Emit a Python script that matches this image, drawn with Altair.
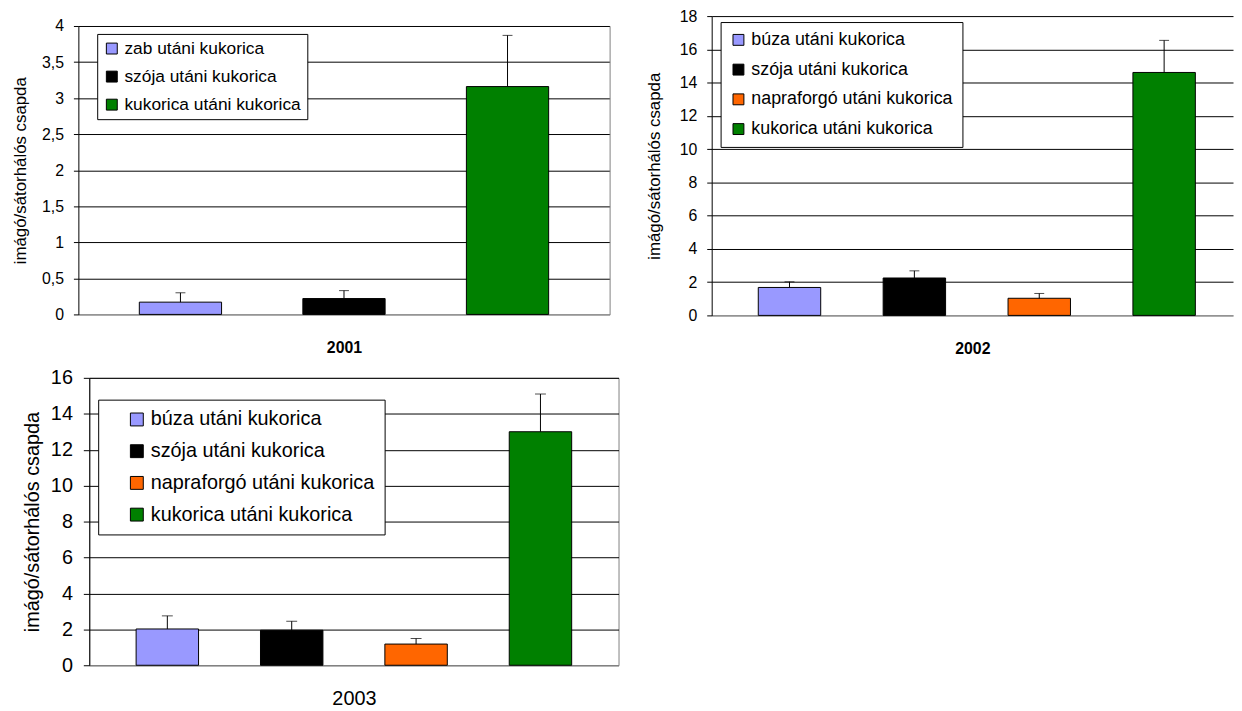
import altair as alt
import pandas as pd

FONT = "Liberation Sans"
Y_TITLE = "imágó/sátorhálós csapda"

# ---- data ----
cats_2001 = ["zab utáni kukorica", "szója utáni kukorica", "kukorica utáni kukorica"]
vals_2001 = [0.17, 0.22, 3.16]
errs_2001 = [0.13, 0.11, 0.71]
colors_2001 = ["#9999FF", "#000000", "#008000"]
ticks_2001 = [0, 0.5, 1, 1.5, 2, 2.5, 3, 3.5, 4]

cats_4 = ["búza utáni kukorica", "szója utáni kukorica", "napraforgó utáni kukorica", "kukorica utáni kukorica"]
colors_4 = ["#9999FF", "#000000", "#FF6600", "#008000"]

vals_2002 = [1.68, 2.25, 1.03, 14.61]
errs_2002 = [0.34, 0.43, 0.29, 1.93]
ticks_2002 = [0, 2, 4, 6, 8, 10, 12, 14, 16, 18]

vals_2003 = [2.02, 1.95, 1.18, 13.0]
errs_2003 = [0.73, 0.50, 0.31, 2.10]
ticks_2003 = [0, 2, 4, 6, 8, 10, 12, 14, 16]


def panel(cats, vals, errs, colors, year, ticks, width, height, band,
          tick_fs, legend_fs, ytitle_fs, xtitle_fs, xtitle_weight,
          lx, ly, lpad, lrow, lsym, lsymoff,
          ytitle_x, xtitle_y, tick_size, label_pad, cap, stroke_view,
          ytop=0, right_border=False):
    df = pd.DataFrame({"cat": cats, "val": vals,
                       "top": [round(v + e, 3) for v, e in zip(vals, errs)]})
    pi, po, al = band
    xscale = alt.Scale(domain=cats, paddingInner=pi, paddingOuter=po, align=al)
    if ytop:
        yscale = alt.Scale(domain=[0, ticks[-1]], nice=False, range=[height, ytop])
    else:
        yscale = alt.Scale(domain=[0, ticks[-1]], nice=False)
    xaxis = alt.Axis(title=year, labels=False, ticks=False, grid=False,
                     domainColor="#808080", domainWidth=1,
                     titleFont=FONT, titleFontSize=xtitle_fs, titleFontWeight=xtitle_weight,
                     titleColor="black", titleBaseline="alphabetic", titleY=xtitle_y)
    yaxis = alt.Axis(title=Y_TITLE, values=ticks,
                     labelExpr="replace(toString(datum.value), '.', ',')",
                     grid=True,
                     gridColor={"condition": {"test": "datum.value === 0", "value": "#808080"},
                                "value": "#000000"},
                     gridWidth=1, domainColor="#000000", domainWidth=1,
                     tickColor="#000000", tickSize=tick_size, tickWidth=1,
                     labelPadding=label_pad, labelFont=FONT, labelFontSize=tick_fs,
                     labelColor="black",
                     titleFont=FONT, titleFontSize=ytitle_fs, titleFontWeight="normal",
                     titleColor="black", titleBaseline="alphabetic", titleX=ytitle_x,
                     titleY=(height + ytop) / 2)
    X = alt.X("cat:N", sort=cats, scale=xscale, axis=xaxis)
    legend = alt.Legend(orient="none", legendX=lx, legendY=ly, direction="vertical",
                        strokeColor="black", fillColor="white", padding=lpad,
                        symbolType="square", symbolSize=lsym * lsym,
                        symbolStrokeColor="black", symbolStrokeWidth=1, symbolOpacity=1,
                        symbolOffset=lsymoff,
                        labelFont=FONT, labelFontSize=legend_fs, labelColor="black",
                        rowPadding=lrow, labelOffset=4, labelLimit=600)
    base = alt.Chart(df)
    bars = base.mark_bar(stroke="black", strokeWidth=1).encode(
        x=X,
        y=alt.Y("val:Q", scale=yscale, axis=yaxis),
        color=alt.Color("cat:N", scale=alt.Scale(domain=cats, range=colors), title=None, legend=legend),
    )
    rules = base.mark_rule(color="black", strokeWidth=1).encode(
        x=X,
        y=alt.Y("val:Q", scale=yscale, axis=yaxis),
        y2="top:Q",
    )
    if right_border:
        cap_axis = alt.Axis(orient="right", labels=False, ticks=False, grid=False, title=None,
                            domainColor="#808080", domainWidth=1)
    else:
        cap_axis = yaxis
    caps = base.mark_tick(color="black", thickness=1, size=cap, orient="horizontal").encode(
        x=X,
        y=alt.Y("top:Q", scale=yscale, axis=cap_axis),
    )
    props = dict(width=width, height=height,
                 view=alt.ViewBackground(stroke=stroke_view, strokeWidth=1, fill="white"))
    if right_border:
        ch = alt.layer(alt.layer(bars, rules), caps).resolve_axis(y="independent")
    else:
        ch = alt.layer(bars, rules, caps)
    return ch.properties(**props)


def spacer(w):
    # empty, invisible cell that only shifts the panel next to it
    return alt.Chart(pd.DataFrame({"s": [0]})).mark_point(opacity=0, size=0).encode(
        x=alt.value(0), y=alt.value(0)
    ).properties(width=w, height=1,
                 view=alt.ViewBackground(stroke="transparent", fill="transparent"))


p1 = panel(cats_2001, vals_2001, errs_2001, colors_2001, "2001", ticks_2001,
           536, 301, (0.497, 0.3727, 0.5),
           16, 17.5, 17, 16, "bold",
           19, 18, 6, 9.3, 11, 0,
           -53, 38, 5, 10, 10, "transparent",
           ytop=10, right_border=True)

p2 = panel(cats_4, vals_2002, errs_2002, colors_4, "2002", ticks_2002,
           526, 302, (0.5, 0.3373, 0.553),
           16, 18, 17, 16, "bold",
           9, 6, 9, 12, 11, 0,
           -53, 38, 5, 10, 10, "transparent")

p3 = panel(cats_4, vals_2003, errs_2003, colors_4, "2003", ticks_2003,
           534, 290, (0.498, 0.3766, 0.5),
           20, 20, 20, 20, "normal",
           9, 22, 10, 12, 13, 19,
           -51, 40, 6, 11, 11, "#808080")


def indep(c):
    return c.resolve_scale(color="independent").resolve_legend(color="independent")


top_pair = indep(alt.hconcat(p1, p2, spacing=34))
top = indep(alt.hconcat(spacer(1), top_pair, spacing=0))
bottom = indep(alt.hconcat(spacer(12), p3, spacing=0))
chart = indep(alt.vconcat(top, bottom, spacing=10)).properties(
    padding={"left": 0, "top": -4, "right": 0, "bottom": 0},
    background="white",
).configure(font=FONT)

chart.save("out.html", embed_options={"renderer": "svg", "actions": False})
